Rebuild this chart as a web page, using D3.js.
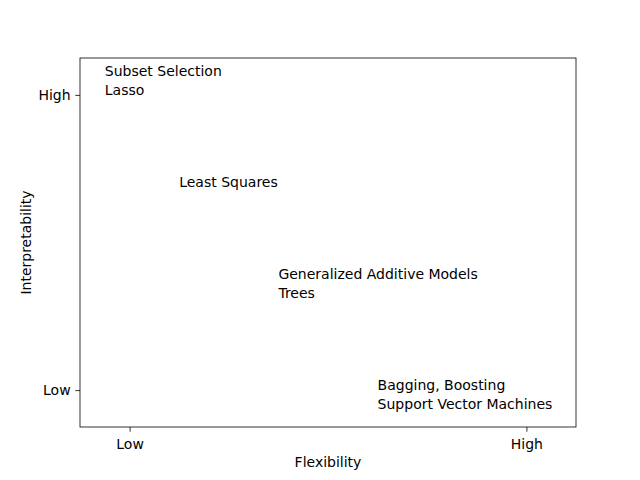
<!DOCTYPE html>
<html><head><meta charset="utf-8">
<script src="https://cdn.jsdelivr.net/npm/d3@7"></script>
<style>body{margin:0;background:#fff}svg{display:block}text{font-family:"DejaVu Sans",sans-serif}</style>
</head><body>
<script>
const xTickValues = [0.1, 0.9];
const xTickLabels = ["Low", "High"];
const yTickValues = [0.1, 0.9];
const yTickLabels = ["Low", "High"];
const labelLines = [["Subset Selection", "Lasso"], ["Least Squares"], ["Generalized Additive Models", "Trees"], ["Bagging, Boosting", "Support Vector Machines"]];
const labelX = [0.05, 0.2, 0.4, 0.6];
const labelY = [0.9, 0.65, 0.35, 0.05];

const W = 640, H = 480, FS = 14;
const m = {left: 80, right: 64, top: 58, bottom: 53};
const svg = d3.select("body").append("svg").attr("width", W).attr("height", H);
const x = d3.scaleLinear().domain([0, 1]).range([m.left, W - m.right]);
const y = d3.scaleLinear().domain([0, 1]).range([H - m.bottom, m.top]);

const xAxis = d3.axisBottom(x).tickValues(xTickValues).tickFormat((d, i) => xTickLabels[i]).tickSize(4.7).tickPadding(7.5);
const yAxis = d3.axisLeft(y).tickValues(yTickValues).tickFormat((d, i) => yTickLabels[i]).tickSize(4.7).tickPadding(4.7);

const gx = svg.append("g").attr("transform", `translate(0,${H - m.bottom})`).call(xAxis);
const gy = svg.append("g").attr("transform", `translate(${m.left},0)`).call(yAxis);
[gx, gy].forEach(g => {
  g.select(".domain").remove();
  g.selectAll("text").attr("font-size", FS).attr("fill", "#000").attr("font-family", "DejaVu Sans");
  g.selectAll("line").attr("stroke", "#000").attr("stroke-width", 0.8);
});

svg.append("rect").attr("x", x(0)).attr("y", y(1)).attr("width", x(1) - x(0)).attr("height", y(0) - y(1))
  .attr("fill", "none").attr("stroke", "#000").attr("stroke-width", 0.8);

const lineH = 19;
labelLines.forEach((lines, i) => {
  const t = svg.append("text").attr("font-size", FS).attr("fill", "#000");
  const n = lines.length;
  lines.forEach((s, j) => {
    t.append("tspan").attr("x", x(labelX[i])).attr("y", y(labelY[i]) - (n - 1 - j) * lineH).text(s);
  });
});

svg.append("text").attr("x", (x(0) + x(1)) / 2).attr("y", 467).attr("text-anchor", "middle")
  .attr("font-size", FS).text("Flexibility");
svg.append("text").attr("transform", `translate(31,${(y(0) + y(1)) / 2}) rotate(-90)`).attr("text-anchor", "middle")
  .attr("font-size", FS).text("Interpretability");
</script>
</body></html>
